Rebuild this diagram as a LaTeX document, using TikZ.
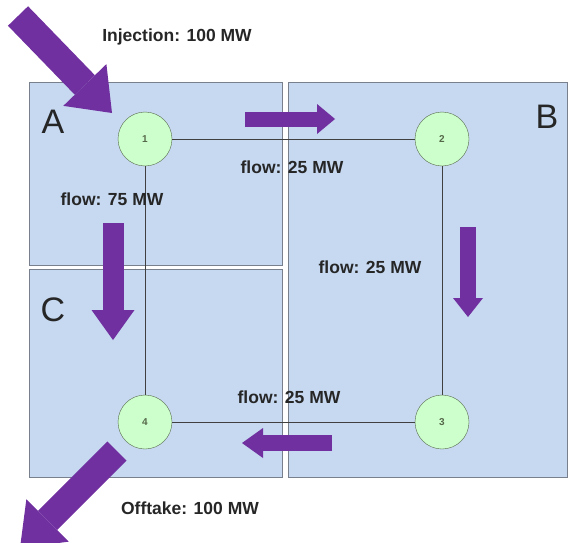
\documentclass[tikz,border=0pt]{standalone}
\usepackage{fontspec}
\setmainfont{Liberation Sans}
\usepackage{xcolor}
\usetikzlibrary{arrows.meta}

\definecolor{zonafundo}{HTML}{C6D9F1}
\definecolor{zonaborda}{HTML}{77808C}
\definecolor{barrafundo}{HTML}{CCFFCC}
\definecolor{barraborda}{HTML}{56684A}
\definecolor{roxo}{HTML}{7030A0}

\begin{document}
\begin{tikzpicture}[
    x=1pt, y=-1pt,
    zona/.style={draw=zonaborda, fill=zonafundo, line width=1pt, anchor=north west,
        inner sep=0pt},
    barra/.style={circle, draw=barraborda, fill=barrafundo, minimum size=54pt,
        inner sep=0pt, font=\fontsize{10}{12}\selectfont\bfseries, text=barraborda},
    linha/.style={draw=black!75, line width=0.8pt},
    rotulo/.style={font=\fontsize{17.5}{20}\selectfont\bfseries, text=black!85},
    letra/.style={font=\fontsize{34}{36}\selectfont, text=black!85},
    fluxo/.style n args={3}{draw=roxo, line width=#1,
        -{Triangle[width=#2, length=#3, line width=0pt]}}
]
    \useasboundingbox (0,0) rectangle (570,543);
    \clip (0,0) rectangle (570,543);

    % zonas
    \node[zona, minimum width=253pt, minimum height=183pt] (zonaA) at (29,82) {};
    \node[zona, minimum width=253pt, minimum height=208pt] (zonaC) at (29,269) {};
    \node[zona, minimum width=279pt, minimum height=395pt] (zonaB) at (288,82) {};
    \node[letra] (letraA) at (53,122) {A};
    \node[letra] (letraB) at (547,117) {B};
    \node[letra] (letraC) at (53,310) {C};

    % barras e linhas
    \node[barra] (b1) at (145,139) {1};
    \node[barra] (b2) at (442,139) {2};
    \node[barra] (b3) at (442,422) {3};
    \node[barra] (b4) at (145,422) {4};
    \draw[linha] (b1) -- (b2);
    \draw[linha] (b2) -- (b3);
    \draw[linha] (b3) -- (b4);
    \draw[linha] (b1) -- (b4);

    % setas de fluxo
    \coordinate (injIni) at (18,16);
    \coordinate (injFim) at (112,113);
    \coordinate (f12ini) at (245,119);
    \coordinate (f12fim) at (335,119);
    \coordinate (f14ini) at (113,223);
    \coordinate (f14fim) at (113,340);
    \coordinate (f23ini) at (468,227);
    \coordinate (f23fim) at (468,317);
    \coordinate (f34ini) at (332,443);
    \coordinate (f34fim) at (242,443);
    \coordinate (offIni) at (117,451);
    \coordinate (offFim) at (20,548);
    \draw[fluxo={28pt}{60pt}{39pt}] (injIni) -- (injFim);
    \draw[fluxo={15pt}{30pt}{18pt}] (f12ini) -- (f12fim);
    \draw[fluxo={21pt}{43pt}{30pt}] (f14ini) -- (f14fim);
    \draw[fluxo={16pt}{30pt}{19pt}] (f23ini) -- (f23fim);
    \draw[fluxo={16pt}{30pt}{21pt}] (f34ini) -- (f34fim);
    \draw[fluxo={27pt}{60pt}{39pt}] (offIni) -- (offFim);

    % rotulos
    \node[rotulo] (injecao) at (177,37) {Injection: 100 MW};
    \node[rotulo] (fluxo12) at (292,167) {flow: 25 MW};
    \node[rotulo] (fluxo14) at (112,199) {flow: 75 MW};
    \node[rotulo] (fluxo23) at (370,267) {flow: 25 MW};
    \node[rotulo] (fluxo34) at (289,397) {flow: 25 MW};
    \node[rotulo] (retirada) at (190,508) {Offtake: 100 MW};
\end{tikzpicture}
\end{document}
